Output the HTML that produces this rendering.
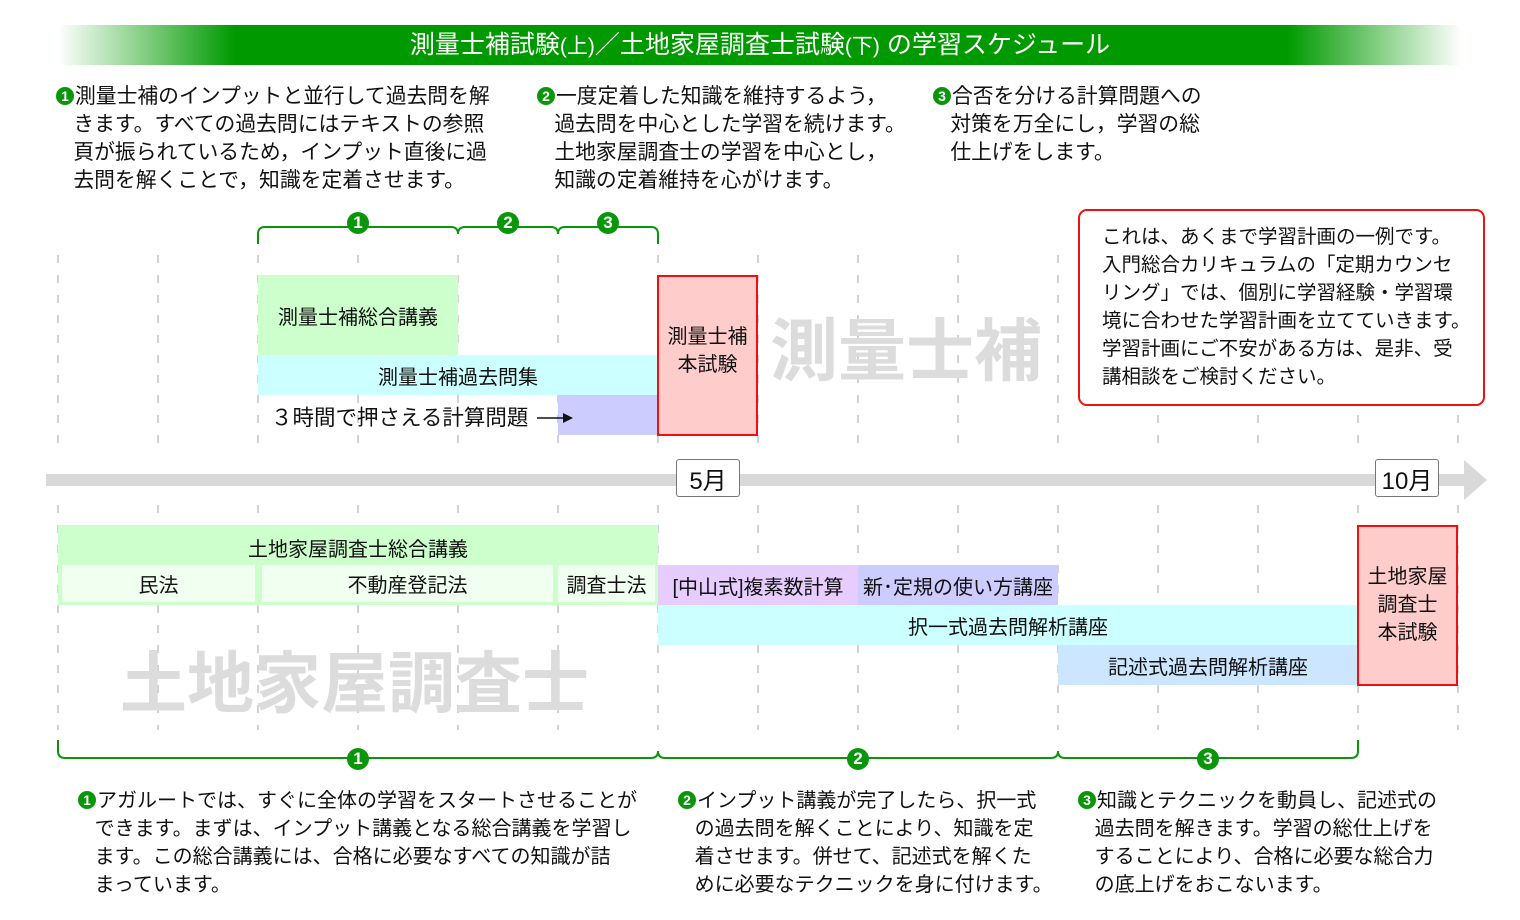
<!DOCTYPE html>
<html><head><meta charset="utf-8">
<style>
*{margin:0;padding:0;box-sizing:border-box}
body{width:1520px;height:920px;background:#fff;position:relative;overflow:hidden;font-family:"Liberation Sans","Noto Sans CJK JP",sans-serif;color:#111}
.a{position:absolute;white-space:nowrap}
.t{font-size:20px;line-height:28px}
.t2{font-size:20.8px;line-height:28px}
.n{display:inline-block;width:18px;height:18px;border-radius:50%;background:#0a960a;color:#fff;font-size:14px;line-height:18px;text-align:center;font-weight:bold;vertical-align:2px;margin-right:1px}
.bar{position:absolute;display:flex;align-items:center;justify-content:center;font-size:20px;white-space:nowrap}
.c{position:absolute;width:22px;height:22px;border-radius:50%;background:#0a960a;color:#fff;font-weight:bold;font-size:17px;line-height:22px;text-align:center}
</style></head><body>
<div class="a" style="left:58px;top:25px;width:1404px;height:40px;background:linear-gradient(to right,#fff 0px,#009a00 177px,#009a00 1230px,#fff 1404px)"></div>
<div class="a" style="left:0;top:25px;width:1520px;height:40px;line-height:40px;text-align:center;color:#fff;font-size:25px">測量士補試験<span style="font-size:21px">(上)</span>／土地家屋調査士試験<span style="font-size:21px">(下)</span> の学習スケジュール</div>

<div class="a t2" style="left:56px;top:83px"><span class="n">1</span>測量士補のインプットと並行して過去問を解<br>&nbsp;&nbsp;&nbsp;きます。すべての過去問にはテキストの参照<br>&nbsp;&nbsp;&nbsp;頁が振られているため，インプット直後に過<br>&nbsp;&nbsp;&nbsp;去問を解くことで，知識を定着させます。</div>
<div class="a t2" style="left:537px;top:83px"><span class="n">2</span>一度定着した知識を維持するよう，<br>&nbsp;&nbsp;&nbsp;過去問を中心とした学習を続けます。<br>&nbsp;&nbsp;&nbsp;土地家屋調査士の学習を中心とし，<br>&nbsp;&nbsp;&nbsp;知識の定着維持を心がけます。</div>
<div class="a t2" style="left:933px;top:83px"><span class="n">3</span>合否を分ける計算問題への<br>&nbsp;&nbsp;&nbsp;対策を万全にし，学習の総<br>&nbsp;&nbsp;&nbsp;仕上げをします。</div>

<svg class="a" style="left:0;top:0" width="1520" height="920">
<g stroke="#bbb" stroke-width="1.3" stroke-dasharray="8,12">
<line x1="58" y1="255" x2="58" y2="455"/><line x1="158" y1="255" x2="158" y2="455"/><line x1="258" y1="255" x2="258" y2="455"/><line x1="358" y1="255" x2="358" y2="455"/><line x1="458" y1="255" x2="458" y2="455"/><line x1="558" y1="255" x2="558" y2="455"/><line x1="658" y1="255" x2="658" y2="455"/><line x1="758" y1="255" x2="758" y2="455"/><line x1="858" y1="255" x2="858" y2="455"/><line x1="958" y1="255" x2="958" y2="455"/><line x1="1058" y1="255" x2="1058" y2="455"/><line x1="1158" y1="255" x2="1158" y2="455"/><line x1="1258" y1="255" x2="1258" y2="455"/><line x1="1358" y1="255" x2="1358" y2="455"/><line x1="1458" y1="255" x2="1458" y2="455"/>
<line x1="58" y1="505" x2="58" y2="730"/><line x1="158" y1="505" x2="158" y2="730"/><line x1="258" y1="505" x2="258" y2="730"/><line x1="358" y1="505" x2="358" y2="730"/><line x1="458" y1="505" x2="458" y2="730"/><line x1="558" y1="505" x2="558" y2="730"/><line x1="658" y1="505" x2="658" y2="730"/><line x1="758" y1="505" x2="758" y2="730"/><line x1="858" y1="505" x2="858" y2="730"/><line x1="958" y1="505" x2="958" y2="730"/><line x1="1058" y1="505" x2="1058" y2="730"/><line x1="1158" y1="505" x2="1158" y2="730"/><line x1="1258" y1="505" x2="1258" y2="730"/><line x1="1358" y1="505" x2="1358" y2="730"/><line x1="1458" y1="505" x2="1458" y2="730"/>
</g>
<g fill="none" stroke="#0a960a" stroke-width="2">
<path d="M258 244 V234 Q258 227 265 227 H451 Q458 227 458 234 Q458 227 465 227 H551 Q558 227 558 234 Q558 227 565 227 H651 Q658 227 658 234 V244"/>
<path d="M58 740 V751 Q58 758 65 758 H651 Q658 758 658 751 Q658 758 665 758 H1051 Q1058 758 1058 751 Q1058 758 1065 758 H1351 Q1358 758 1358 751 V740"/>
</g>
<rect x="46" y="474" width="1420" height="12" fill="#d9d9d9"/>
<polygon points="1464,460 1487,480 1464,500" fill="#d9d9d9"/>
</svg>
<div class="c" style="left:347px;top:212px">1</div>
<div class="c" style="left:497px;top:212px">2</div>
<div class="c" style="left:597px;top:212px">3</div>
<div class="c" style="left:347px;top:748px">1</div>
<div class="c" style="left:847px;top:748px">2</div>
<div class="c" style="left:1197px;top:748px">3</div>

<div class="bar" style="left:258px;top:275px;width:200px;height:80px;background:#ccffcc">測量士補総合講義</div>
<div class="bar" style="left:258px;top:355px;width:400px;height:40px;background:#ccffff">測量士補過去問集</div>
<div class="bar" style="left:558px;top:395px;width:100px;height:40px;background:#ccccff"></div>
<div class="a" style="left:271px;top:404px;font-size:21.5px;line-height:28px">３時間で押さえる計算問題</div>
<svg class="a" style="left:0;top:0" width="1520" height="920">
<line x1="537" y1="418" x2="565" y2="418" stroke="#111" stroke-width="1.5"/>
<polygon points="563,413 573,418 563,423" fill="#111"/>
</svg>
<div class="bar" style="left:657px;top:275px;width:101px;height:161px;background:#ffcccc;border:2px solid #ee1111;line-height:28px;text-align:center;align-items:flex-start;padding-top:46px">測量士補<br>本試験</div>
<div class="a" style="left:770px;top:310px;font-size:68px;line-height:84px;font-weight:bold;color:#dcdcdc">測量士補</div>

<div class="a" style="left:1078px;top:209px;width:407px;height:197px;border:2px solid #ee1111;border-radius:9px;background:#fff"></div>
<div class="a" style="left:1102px;top:223px;font-size:19.5px;line-height:28px">これは、あくまで学習計画の一例です。<br>入門総合カリキュラムの「定期カウンセ<br>リング」では、個別に学習経験・学習環<br>境に合わせた学習計画を立てていきます。<br>学習計画にご不安がある方は、是非、受<br>講相談をご検討ください。</div>

<div class="bar" style="left:676px;top:459px;width:64px;height:38px;background:#fff;border:1.5px solid #777;border-radius:3px;font-size:24px">5月</div>
<div class="bar" style="left:1375px;top:459px;width:64px;height:38px;background:#fff;border:1.5px solid #777;border-radius:3px;font-size:24px">10月</div>

<div class="bar" style="left:58px;top:525px;width:600px;height:80px;background:#ccffcc;align-items:flex-start;padding-top:8px">土地家屋調査士総合講義</div>
<div class="bar" style="left:62px;top:565px;width:193px;height:37px;background:#f0fff0">民法</div>
<div class="bar" style="left:262px;top:565px;width:291px;height:37px;background:#f0fff0">不動産登記法</div>
<div class="bar" style="left:558px;top:565px;width:97px;height:37px;background:#f0fff0">調査士法</div>
<div class="bar" style="left:658px;top:565px;width:200px;height:40px;background:#e6ccff">[中山式]複素数計算</div>
<div class="bar" style="left:858px;top:565px;width:200px;height:40px;background:#ccccff">新･定規の使い方講座</div>
<div class="bar" style="left:658px;top:605px;width:700px;height:40px;background:#ccffff">択一式過去問解析講座</div>
<div class="bar" style="left:1058px;top:645px;width:300px;height:40px;background:#cce6ff">記述式過去問解析講座</div>
<div class="bar" style="left:1357px;top:525px;width:101px;height:161px;background:#ffcccc;border:2px solid #ee1111;line-height:28px;text-align:center;align-items:flex-start;padding-top:36px">土地家屋<br>調査士<br>本試験</div>
<div class="a" style="left:120px;top:643px;font-size:67px;line-height:84px;font-weight:bold;color:#dcdcdc">土地家屋調査士</div>

<div class="a t" style="left:78px;top:787px"><span class="n">1</span>アガルートでは、すぐに全体の学習をスタートさせることが<br>&nbsp;&nbsp;&nbsp;できます。まずは、インプット講義となる総合講義を学習し<br>&nbsp;&nbsp;&nbsp;ます。この総合講義には、合格に必要なすべての知識が詰<br>&nbsp;&nbsp;&nbsp;まっています。</div>
<div class="a t" style="left:678px;top:787px"><span class="n">2</span>インプット講義が完了したら、択一式<br>&nbsp;&nbsp;&nbsp;の過去問を解くことにより、知識を定<br>&nbsp;&nbsp;&nbsp;着させます。併せて、記述式を解くた<br>&nbsp;&nbsp;&nbsp;めに必要なテクニックを身に付けます。</div>
<div class="a t" style="left:1078px;top:787px"><span class="n">3</span>知識とテクニックを動員し、記述式の<br>&nbsp;&nbsp;&nbsp;過去問を解きます。学習の総仕上げを<br>&nbsp;&nbsp;&nbsp;することにより、合格に必要な総合力<br>&nbsp;&nbsp;&nbsp;の底上げをおこないます。</div>
</body></html>
